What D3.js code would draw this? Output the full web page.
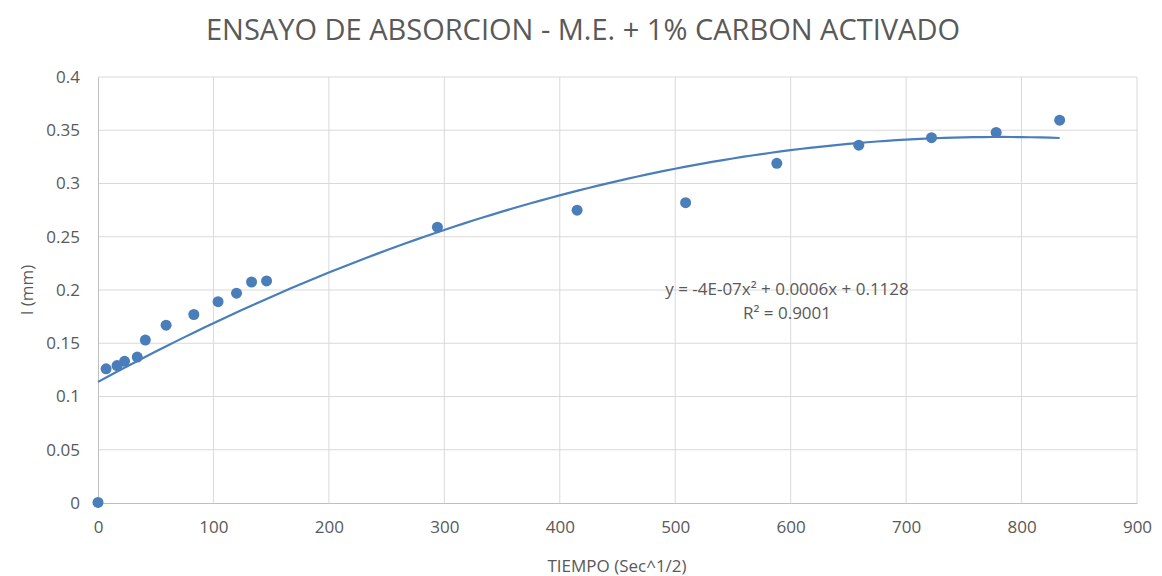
<!DOCTYPE html>
<html>
<head>
<meta charset="utf-8">
<script src="https://cdn.jsdelivr.net/npm/d3@7"></script>
<style>
  body { margin: 0; background: #fff; }
  text { font-family: "Open Sans", sans-serif; fill: #595959; }
</style>
</head>
<body>
<svg id="chart" width="1162" height="576"></svg>
<script>
// data
var tiempo = [0, 7, 16.5, 23, 34, 41, 59, 83, 104, 120, 133, 146, 294, 415, 509, 588, 659, 722, 778, 833]
var absorcion = [0.0005, 0.126, 0.129, 0.133, 0.137, 0.153, 0.167, 0.177, 0.189, 0.197, 0.2075, 0.2085,
                 0.259, 0.275, 0.282, 0.319, 0.336, 0.343, 0.348, 0.3595]
var xTicks = [0, 100, 200, 300, 400, 500, 600, 700, 800, 900]
var yTicks = [0, 0.05, 0.1, 0.15, 0.2, 0.25, 0.3, 0.35, 0.4]
var eqLabel = "y = -4E-07x\u00B2 + 0.0006x + 0.1128"
var r2Label = "R\u00B2 = 0.9001"

var margin = {top: 77, right: 25, bottom: 73, left: 98}
var width = 1162, height = 576
var svg = d3.select("#chart")

var x = d3.scaleLinear().domain([0, 900]).range([margin.left, width - margin.right])
var y = d3.scaleLinear().domain([0, 0.4]).range([height - margin.bottom, margin.top])

// gridlines
svg.append("g")
  .selectAll("line.h")
  .data(yTicks.slice(1))
  .enter().append("line")
    .attr("x1", x(0)).attr("x2", x(900))
    .attr("y1", function(d){ return y(d) }).attr("y2", function(d){ return y(d) })
    .attr("stroke", "#d9d9d9").attr("stroke-width", 1)
svg.append("g")
  .selectAll("line.v")
  .data(xTicks.slice(1))
  .enter().append("line")
    .attr("x1", function(d){ return x(d) }).attr("x2", function(d){ return x(d) })
    .attr("y1", y(0)).attr("y2", y(0.4))
    .attr("stroke", "#d9d9d9").attr("stroke-width", 1)

// axes
var xAxis = d3.axisBottom(x).tickValues(xTicks).tickSize(0).tickPadding(18)
var yAxis = d3.axisLeft(y).tickValues(yTicks).tickSize(0).tickPadding(18)
  .tickFormat(function(d){ return d3.format("")(+d.toFixed(2)) })

var gx = svg.append("g").attr("transform", "translate(0," + y(0) + ")").call(xAxis)
gx.select(".domain").attr("stroke", "#bfbfbf")
gx.selectAll("text").style("font-size", "17px").attr("fill", "#595959")

var gy = svg.append("g").attr("transform", "translate(" + x(0) + ",0)").call(yAxis)
gy.select(".domain").attr("stroke", "#bfbfbf")
gy.selectAll("text").style("font-size", "17px").attr("fill", "#595959")

// polynomial trendline (order 2), least squares from the points
function polyFit(xs, ys) {
  var s = [0,0,0,0,0], t = [0,0,0]
  xs.forEach(function(xv, i){
    var p = 1
    for (var k = 0; k < 5; k++) { s[k] += p; if (k < 3) t[k] += p * ys[i]; p *= xv }
  })
  var A = [[s[0], s[1], s[2], t[0]], [s[1], s[2], s[3], t[1]], [s[2], s[3], s[4], t[2]]]
  for (var i = 0; i < 3; i++) {
    for (var j = i + 1; j < 3; j++) {
      var f = A[j][i] / A[i][i]
      for (var k = i; k < 4; k++) A[j][k] -= f * A[i][k]
    }
  }
  var c = [0,0,0]
  for (var i = 2; i >= 0; i--) {
    var v = A[i][3]
    for (var k = i + 1; k < 3; k++) v -= A[i][k] * c[k]
    c[i] = v / A[i][i]
  }
  return c
}
var coef = polyFit(tiempo, absorcion)
var xMax = d3.max(tiempo)
var fitPts = d3.range(0, xMax + 0.01, xMax / 100).map(function(t){
  return [t, coef[0] + coef[1] * t + coef[2] * t * t]
})
svg.append("path")
  .datum(fitPts)
  .attr("fill", "none")
  .attr("stroke", "#4a7ebb")
  .attr("stroke-width", 2.2)
  .attr("d", d3.line().x(function(d){ return x(d[0]) }).y(function(d){ return y(d[1]) }))

// points
svg.append("g")
  .selectAll("circle")
  .data(tiempo)
  .enter().append("circle")
    .attr("cx", function(d){ return x(d) })
    .attr("cy", function(d, i){ return y(absorcion[i]) })
    .attr("r", 5.5)
    .attr("fill", "#4a7ebb")

// equation label
svg.append("text").attr("x", 787).attr("y", 295).attr("text-anchor", "middle")
  .style("font-size", "17px").text(eqLabel)
svg.append("text").attr("x", 787).attr("y", 319).attr("text-anchor", "middle")
  .style("font-size", "17px").text(r2Label)

// titles
svg.append("text").attr("x", 583).attr("y", 40).attr("text-anchor", "middle")
  .style("font-size", "29px").text("ENSAYO DE ABSORCION - M.E. + 1% CARBON ACTIVADO")
svg.append("text").attr("x", 617).attr("y", 572).attr("text-anchor", "middle")
  .style("font-size", "17px").text("TIEMPO (Sec^1/2)")
svg.append("text").attr("transform", "translate(33,290) rotate(-90)").attr("text-anchor", "middle")
  .style("font-size", "17px").text("I (mm)")
</script>
</body>
</html>
